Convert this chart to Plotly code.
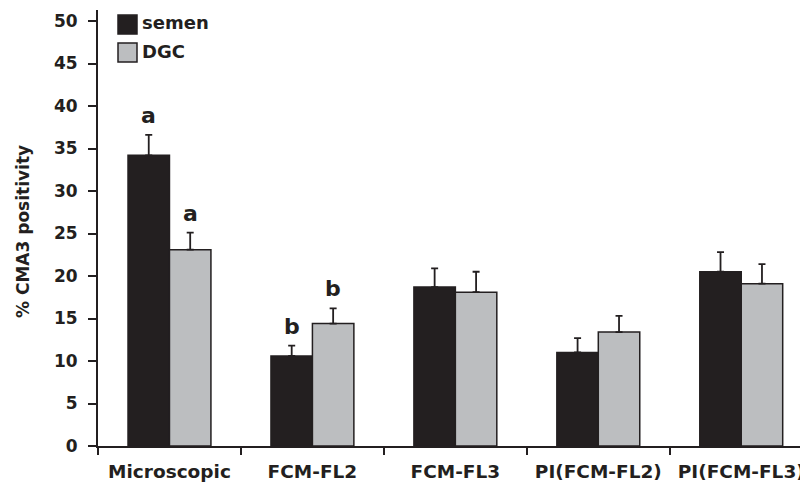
import plotly.graph_objects as go

categories = ["Microscopic", "FCM-FL2", "FCM-FL3", "PI(FCM-FL2)", "PI(FCM-FL3)"]
series_names = ["semen", "DGC"]
semen_values = [34.2, 10.6, 18.7, 11.0, 20.5]
semen_errors = [2.4, 1.2, 2.2, 1.7, 2.3]
dgc_values = [23.1, 14.4, 18.1, 13.4, 19.1]
dgc_errors = [2.0, 1.8, 2.4, 1.9, 2.3]
semen_letters = ["a", "b", "", "", ""]
dgc_letters = ["a", "b", "", "", ""]
y_ticks = [0, 5, 10, 15, 20, 25, 30, 35, 40, 45, 50]

INK = "#231f20"
GRAY = "#bcbec0"
FONT = "DejaVu Sans, Verdana, sans-serif"

# plot area geometry (page has an 8px body margin)
PLOT_W = 709
PX_PER_UNIT = 8.5

fig = go.Figure()
for name, vals, errs, color in [
    (series_names[0], semen_values, semen_errors, INK),
    (series_names[1], dgc_values, dgc_errors, GRAY),
]:
    fig.add_trace(go.Bar(
        name=name, x=categories, y=vals,
        marker=dict(color=color, line=dict(color=INK, width=1.5)),
        error_y=dict(type="data", array=errs, arrayminus=[0] * len(errs),
                     symmetric=False, color=INK, thickness=1.8, width=3.5),
        showlegend=False,
    ))

# significance letters
for letters, vals, errs, shift in [
    (semen_letters, semen_values, semen_errors, -20.75),
    (dgc_letters, dgc_values, dgc_errors, 20.75),
]:
    for cat, l, v, e in zip(categories, letters, vals, errs):
        if l:
            fig.add_annotation(x=cat, y=v + e + 2.3, text=l, showarrow=False,
                               xshift=shift, yanchor="middle",
                               font=dict(family=FONT, size=22, color=INK, weight="bold"))

# legend drawn as squares + labels
sq_centers = [24.5, 52.5]
txt_centers = [22.5, 51.5]
for i, (name, color) in enumerate(zip(series_names, [INK, GRAY])):
    yc = sq_centers[i]
    fig.add_shape(type="rect", xref="paper", yref="y",
                  x0=(118 - 98) / PLOT_W, x1=(137 - 98) / PLOT_W,
                  y0=(446 - (yc + 9.5)) / PX_PER_UNIT, y1=(446 - (yc - 9.5)) / PX_PER_UNIT,
                  fillcolor=color, line=dict(color=INK, width=1.5))
    fig.add_annotation(xref="paper", yref="y", x=(140 - 98) / PLOT_W,
                       y=(446 - txt_centers[i]) / PX_PER_UNIT,
                       text=name, showarrow=False, xanchor="left", yanchor="middle",
                       font=dict(family=FONT, size=18, color=INK, weight="bold"))

fig.update_layout(
    width=800, height=479,
    margin=dict(l=90, r=1, t=2, b=41, autoexpand=False),
    plot_bgcolor="white", paper_bgcolor="white",
    barmode="group", bargap=0.42, bargroupgap=0,
    font=dict(family=FONT, color=INK, weight="bold"),
    xaxis=dict(
        range=[-0.5, 4.46], showline=True, linecolor=INK, linewidth=2,
        ticks="outside", tickson="boundaries", ticklen=7, tickwidth=1.5, tickcolor=INK,
        ticklabelstandoff=8, automargin=False,
        tickfont=dict(family=FONT, size=18.5, color=INK, weight="bold"),
        showgrid=False, zeroline=False,
    ),
    yaxis=dict(
        range=[0, 51.3], tickvals=y_ticks, showline=True, linecolor=INK, linewidth=2,
        ticks="outside", ticklen=8, tickwidth=1.5, tickcolor=INK,
        ticklabelstandoff=7, automargin=False,
        tickfont=dict(family=FONT, size=17, color=INK, weight="bold"),
        showgrid=False, zeroline=False,
    ),
)
fig.add_annotation(xref="paper", yref="paper", x=(23 - 98) / PLOT_W, y=(446 - 232) / 436,
                   text="% CMA3 positivity", textangle=-90, showarrow=False,
                   xanchor="center", yanchor="middle",
                   font=dict(family=FONT, size=17, color=INK, weight="bold"))

fig.write_html("out.html")
